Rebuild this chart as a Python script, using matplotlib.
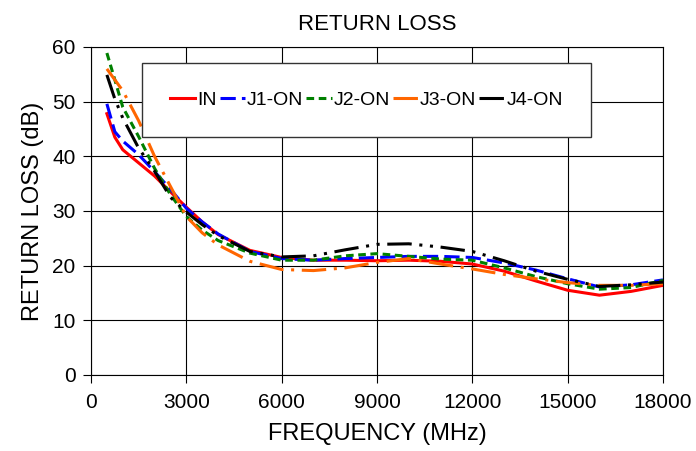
from matplotlib import pyplot as plt

plt.rcParams["font.family"] = ["Liberation Sans", "DejaVu Sans"]

# frequency points (MHz)
freq = [500, 750, 1000, 1500, 2000, 2500, 3000, 3500, 4000, 5000, 6000, 7000,
        8000, 9000, 10000, 11000, 12000, 13000, 14000, 15000, 16000, 17000, 18000]

rl_in = [47.8, 43.5, 41.2, 38.8, 36.4, 33.5, 30.7, 28.0, 25.7, 22.8, 21.5, 21.0,
         21.0, 20.9, 21.0, 20.8, 20.3, 19.0, 17.2, 15.5, 14.6, 15.3, 16.4]
rl_j1 = [49.6, 44.5, 42.8, 40.3, 37.2, 34.0, 30.5, 28.0, 25.8, 22.6, 21.3, 21.0,
         21.3, 21.5, 21.7, 21.7, 21.5, 20.5, 19.2, 17.6, 16.1, 16.5, 17.4]
rl_j2 = [58.9, 54.0, 49.0, 43.6, 37.8, 33.0, 29.0, 26.5, 24.6, 22.3, 21.0, 21.0,
         21.8, 22.2, 21.7, 21.2, 21.0, 19.6, 18.0, 16.7, 15.7, 16.0, 17.3]
rl_j3 = [56.0, 54.0, 52.0, 46.5, 40.0, 34.5, 29.0, 26.0, 23.8, 20.8, 19.3, 19.1,
         19.6, 20.6, 21.3, 20.3, 19.4, 18.4, 17.6, 16.9, 16.4, 16.4, 16.7]
rl_j4 = [54.9, 50.5, 47.0, 41.5, 37.3, 32.5, 29.8, 27.5, 25.5, 22.6, 21.6, 21.8,
         22.9, 23.9, 24.0, 23.4, 22.6, 20.9, 19.0, 17.5, 16.2, 16.5, 17.0]

series = [
    ("IN", rl_in, "#ff0000", "-"),
    ("J1-ON", rl_j1, "#0000ff", (0, (5, 2))),
    ("J2-ON", rl_j2, "#008000", (0, (2.5, 1.5))),
    ("J3-ON", rl_j3, "#ff6600", (0, (8, 2.5, 1, 2.5))),
    ("J4-ON", rl_j4, "#000000", (0, (8, 2.5, 1, 2.5, 1, 2.5))),
]


def main():
    fig = plt.figure(figsize=(6.96, 4.51), dpi=100)
    ax = fig.add_axes([91 / 696, 76 / 451, 572 / 696, 328 / 451])

    for name, vals, color, ls in series:
        ax.plot(freq, vals, color=color, linestyle=ls, linewidth=2.2, label=name)

    ax.set_xlim(0, 18000)
    ax.set_ylim(0, 60)
    ax.set_xticks(range(0, 18001, 3000))
    ax.set_yticks(range(0, 61, 10))
    ax.grid(True, color="#000000", linewidth=0.8)
    ax.set_axisbelow(True)
    ax.tick_params(labelsize=15, direction="out", length=6, width=0.8, pad=5)
    ax.tick_params(axis="x", pad=7)
    for sp in ax.spines.values():
        sp.set_linewidth(0.8)

    ax.set_title("RETURN LOSS", fontsize=16, pad=12)
    ax.set_xlabel("FREQUENCY (MHz)", fontsize=17, labelpad=8)
    ax.set_ylabel("RETURN LOSS (dB)", fontsize=17, labelpad=6)

    leg = ax.legend(loc="center", bbox_to_anchor=(0.0944, 0.732, 0.775, 0.21),
                    ncol=5, fontsize=14, handlelength=1.3, handletextpad=0.1,
                    columnspacing=0.15, borderaxespad=0, fancybox=False,
                    framealpha=1, edgecolor="#333333", borderpad=1.45)
    leg.get_frame().set_linewidth(1.0)

    fig.savefig("out.png", dpi=100)


if __name__ == "__main__":
    main()
